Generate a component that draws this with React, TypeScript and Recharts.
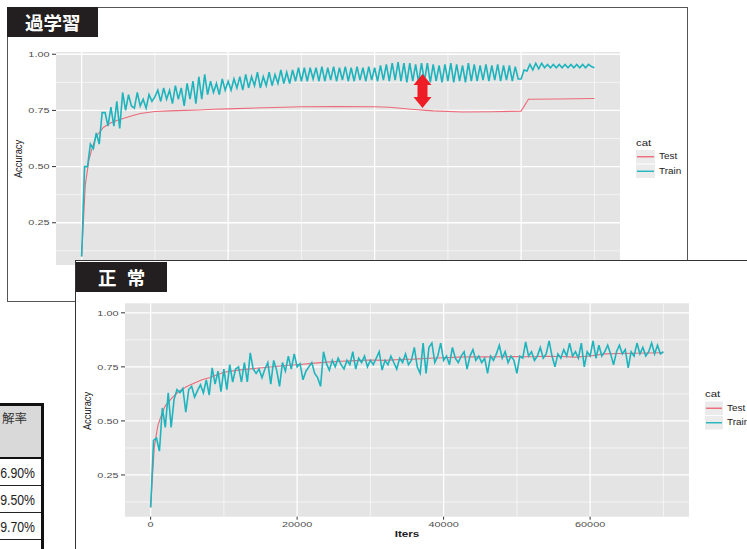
import { LineChart, Line, XAxis, YAxis, CartesianGrid } from "recharts"

const FONT = '"Liberation Sans", Arial, Helvetica, sans-serif'
const CJK = '"Noto Sans CJK JP", "Noto Sans CJK SC", sans-serif'

const TEST_COLOR = "#EC6A78"
const TRAIN_COLOR = "#1EB4BD"
const PANEL = "#E4E4E4"

// iterations between two logged training points
const ITER_STEP = 400

const yMajor = [0.25, 0.5, 0.75, 1.0]
const yMinor = [0.125, 0.375, 0.625, 0.875]
const xMajor = [0, 20000, 40000, 60000]
const xMinor = [10000, 30000, 50000, 70000]

const legendItems = [
  { label: "Test", color: TEST_COLOR },
  { label: "Train", color: TRAIN_COLOR },
]

// 過学習 (overfitting) - train accuracy, one value every ITER_STEP iterations
const overfitTrainAcc = [
  0.10, 0.50, 0.50, 0.60, 0.58, 0.65, 0.60, 0.74, 0.74, 0.68,
  0.765, 0.68, 0.79, 0.67, 0.83, 0.75, 0.82, 0.77, 0.76, 0.83,
  0.77, 0.80, 0.76, 0.82, 0.79, 0.81, 0.84, 0.79, 0.85, 0.80,
  0.84, 0.78, 0.86, 0.80, 0.85, 0.77, 0.87, 0.80, 0.88, 0.78,
  0.90, 0.80, 0.91, 0.82, 0.88, 0.83, 0.87, 0.82, 0.89, 0.84,
  0.88, 0.84, 0.89, 0.85, 0.90, 0.84, 0.91, 0.85, 0.90, 0.86,
  0.92, 0.85, 0.90, 0.86, 0.92, 0.86, 0.91, 0.87, 0.93, 0.87,
  0.92, 0.87, 0.93, 0.88, 0.94, 0.88, 0.94, 0.88, 0.94, 0.89,
  0.94, 0.88, 0.945, 0.88, 0.94, 0.885, 0.945, 0.88, 0.94, 0.885,
  0.945, 0.88, 0.94, 0.88, 0.945, 0.885, 0.94, 0.88, 0.945, 0.885,
  0.94, 0.88, 0.95, 0.885, 0.955, 0.88, 0.96, 0.885, 0.965, 0.88,
  0.96, 0.875, 0.96, 0.88, 0.955, 0.875, 0.96, 0.88, 0.96, 0.875,
  0.955, 0.88, 0.95, 0.875, 0.955, 0.88, 0.96, 0.875, 0.955, 0.88,
  0.95, 0.875, 0.96, 0.88, 0.955, 0.88, 0.95, 0.885, 0.955, 0.88,
  0.95, 0.885, 0.955, 0.88, 0.95, 0.885, 0.95, 0.88, 0.945, 0.89,
  0.89, 0.93, 0.925, 0.955, 0.93, 0.96, 0.935, 0.96, 0.94, 0.955,
  0.94, 0.955, 0.94, 0.955, 0.94, 0.955, 0.94, 0.955, 0.94, 0.955,
  0.94, 0.955, 0.94, 0.955, 0.945, 0.94,
]
const overfitTestIters = [
  0, 500, 1000, 1500, 2000, 3000, 4000, 5000, 6000, 7000, 8000, 9000, 10000,
  12000, 14000, 16000, 18000, 20000, 25000, 30000, 35000, 40000, 42000, 45000,
  48000, 52000, 56000, 60000, 61000, 65000, 70000,
]
const overfitTestAcc = [
  0.10, 0.42, 0.53, 0.59, 0.635, 0.675, 0.695, 0.707, 0.717, 0.727, 0.736, 0.741, 0.745,
  0.748, 0.75, 0.752, 0.755, 0.757, 0.762, 0.766, 0.767, 0.766, 0.764, 0.755,
  0.748, 0.743, 0.744, 0.747, 0.80, 0.801, 0.803,
]

// 正常 (normal)
const normalTrainAcc = [
  0.10, 0.41, 0.42, 0.36, 0.56, 0.47, 0.63, 0.47, 0.60, 0.645,
  0.63, 0.65, 0.54, 0.645, 0.66, 0.61, 0.64, 0.667, 0.63, 0.69,
  0.62, 0.745, 0.67, 0.73, 0.635, 0.74, 0.645, 0.76, 0.68, 0.74,
  0.75, 0.68, 0.77, 0.68, 0.815, 0.74, 0.72, 0.74, 0.70, 0.74,
  0.77, 0.67, 0.78, 0.735, 0.66, 0.77, 0.73, 0.80, 0.74, 0.81,
  0.75, 0.765, 0.69, 0.73, 0.75, 0.77, 0.72, 0.70, 0.66, 0.82,
  0.765, 0.735, 0.78, 0.75, 0.79, 0.76, 0.74, 0.78, 0.76, 0.82,
  0.74, 0.79, 0.77, 0.80, 0.75, 0.78, 0.76, 0.79, 0.82, 0.735,
  0.78, 0.76, 0.80, 0.77, 0.74, 0.79, 0.77, 0.81, 0.76, 0.78,
  0.84, 0.75, 0.72, 0.86, 0.72, 0.84, 0.86, 0.77, 0.80, 0.86,
  0.78, 0.80, 0.76, 0.84, 0.79, 0.77, 0.80, 0.82, 0.74, 0.80,
  0.83, 0.78, 0.80, 0.77, 0.79, 0.72, 0.80, 0.78, 0.81, 0.85,
  0.79, 0.82, 0.77, 0.80, 0.78, 0.72, 0.80, 0.79, 0.865, 0.80,
  0.82, 0.78, 0.80, 0.84, 0.79, 0.81, 0.87, 0.80, 0.75, 0.81,
  0.79, 0.83, 0.80, 0.86, 0.80, 0.82, 0.79, 0.86, 0.75, 0.82,
  0.80, 0.87, 0.79, 0.85, 0.80, 0.82, 0.85, 0.81, 0.76, 0.82,
  0.85, 0.81, 0.83, 0.745, 0.82, 0.80, 0.86, 0.81, 0.84, 0.80,
  0.82, 0.86, 0.81, 0.85, 0.81, 0.82,
]
const normalTestIters = [
  0, 500, 1000, 1500, 2000, 3000, 4000, 5000, 6000, 7000, 8000,
  10000, 12000, 14000, 16000, 18000, 20000, 22000, 24000, 26000, 28000, 30000,
  32000, 34000, 36000, 38000, 40000, 42000, 44000, 46000, 48000, 50000,
  52000, 54000, 56000, 58000, 60000, 62000, 64000, 66000, 68000, 70000,
]
const normalTestAcc = [
  0.10, 0.38, 0.48, 0.53, 0.57, 0.61, 0.64, 0.66, 0.675, 0.69, 0.70,
  0.725, 0.735, 0.742, 0.748, 0.755, 0.76, 0.766, 0.772, 0.776, 0.779, 0.782,
  0.78, 0.784, 0.786, 0.79, 0.792, 0.795, 0.797, 0.796, 0.797, 0.798,
  0.797, 0.799, 0.798, 0.795, 0.80, 0.81, 0.812, 0.813, 0.814, 0.815,
]

// left table fragment (partly cut off in the scan)
const tableHeader = "解率"
const tablePercents = ["6.90%", "9.50%", "9.70%", "9.00%"]

const overfitTrain = overfitTrainAcc.map((train, i) => ({ iter: i * ITER_STEP, train }))
const overfitTest = overfitTestIters.map((iter, i) => ({ iter, test: overfitTestAcc[i] }))
const normalTrain = normalTrainAcc.map((train, i) => ({ iter: i * ITER_STEP, train }))
const normalTest = normalTestIters.map((iter, i) => ({ iter, test: normalTestAcc[i] }))

function YTick(props: any) {
  const { x, y, payload } = props
  return (
    <g transform={`translate(${x},${y}) scale(1.45,1)`}>
      <text textAnchor="end" dy="0.36em" fontSize={7.5} fill="#4D4D4D" fontFamily={FONT}>
        {Number(payload.value).toFixed(2)}
      </text>
    </g>
  )
}

function XTick(props: any) {
  const { x, y, payload } = props
  return (
    <g transform={`translate(${x},${y}) scale(1.45,1)`}>
      <text textAnchor="middle" dy="0.71em" fontSize={7.5} fill="#4D4D4D" fontFamily={FONT}>
        {payload.value}
      </text>
    </g>
  )
}

function AccuracyChart({ width, height, margin, yDomain, train, test }: any) {
  return (
    <LineChart width={width} height={height} margin={margin}>
      <CartesianGrid fill={PANEL} stroke="#fff" strokeWidth={0.6} horizontalValues={yMinor} verticalValues={xMinor} />
      <CartesianGrid stroke="#fff" strokeWidth={1.3} horizontalValues={yMajor} verticalValues={xMajor} />
      <XAxis
        type="number"
        dataKey="iter"
        domain={[-3500, 73500]}
        allowDataOverflow
        ticks={xMajor}
        interval={0}
        tick={<XTick />}
        tickSize={3}
        tickMargin={2}
        axisLine={false}
        tickLine={{ stroke: "#333" }}
        height={20}
      />
      <YAxis
        type="number"
        domain={yDomain}
        allowDataOverflow
        ticks={yMajor}
        interval={0}
        tick={<YTick />}
        width={40}
        tickSize={4}
        tickMargin={2.5}
        axisLine={false}
        tickLine={{ stroke: "#333" }}
      />
      <Line data={test} dataKey="test" type="linear" stroke={TEST_COLOR} strokeWidth={1.1} dot={false} isAnimationActive={false} />
      <Line data={train} dataKey="train" type="linear" stroke={TRAIN_COLOR} strokeWidth={1.6} dot={false} isAnimationActive={false} />
    </LineChart>
  )
}

function LegendBlock({ x, titleY, boxTop, boxW }: any) {
  const boxH = 13.5
  return (
    <g fontFamily={FONT}>
      <text transform={`translate(${x},${titleY}) scale(1.3,1)`} fontSize={8.8} fill="#222">cat</text>
      {legendItems.map((item, i) => {
        const top = boxTop + i * (boxH + 1)
        return (
          <g key={item.label}>
            <rect x={x} y={top} width={boxW} height={boxH} fill="#EBEBEB" />
            <line x1={x + 1} x2={x + boxW - 1} y1={top + boxH / 2} y2={top + boxH / 2} stroke={item.color} strokeWidth={1.4} />
            <text transform={`translate(${x + boxW + 4},${top + 9.3}) scale(1.2,1)`} fontSize={8.3} fill="#222">
              {item.label}
            </text>
          </g>
        )
      })}
    </g>
  )
}

const titleBox = (left: number, top: number, text: string, spacing: number) => (
  <div
    style={{
      position: "absolute",
      left,
      top,
      width: 91,
      height: 30,
      background: "#231F20",
      color: "#fff",
      fontFamily: CJK,
      fontWeight: 700,
      fontSize: 18.5,
      lineHeight: "30px",
      paddingLeft: left === 7 ? 18 : 22,
      letterSpacing: spacing,
      boxSizing: "border-box",
      whiteSpace: "nowrap",
    }}
  >
    {text}
  </div>
)

export default function App() {
  return (
    <div style={{ position: "absolute", left: 0, top: 0, width: 747, height: 549, overflow: "hidden", background: "#fff" }}>
      {/* table fragment */}
      <div style={{ position: "absolute", left: -10, top: 403, width: 54, height: 160, borderTop: "3px solid #111", borderRight: "3px solid #111", boxSizing: "border-box" }} />
      <div style={{ position: "absolute", left: 0, top: 406, width: 41, height: 51, background: "#D9D9D9" }} />
      <div style={{ position: "absolute", left: 0, top: 457, width: 41, height: 2, background: "#111" }} />
      {[485, 512, 539].map((t) => (
        <div key={t} style={{ position: "absolute", left: 0, top: t, width: 41, height: 1, background: "#222" }} />
      ))}

      {/* 過学習 panel */}
      <div style={{ position: "absolute", left: 7, top: 7, width: 681, height: 295, border: "1.3px solid #555", boxSizing: "border-box", background: "#fff" }} />
      <div style={{ position: "absolute", left: 0, top: 0 }}>
        <AccuracyChart
          width={700}
          height={285}
          margin={{ top: 52, right: 80, bottom: 0, left: 16 }}
          yDomain={[0.062, 1.01]}
          train={overfitTrain}
          test={overfitTest}
        />
      </div>
      {titleBox(7, 7, "過学習", 0)}

      {/* 正常 panel */}
      <div style={{ position: "absolute", left: 75, top: 260, width: 700, height: 300, border: "1.5px solid #333", boxSizing: "border-box", background: "#fff" }} />
      <div style={{ position: "absolute", left: 76, top: 262 }}>
        <AccuracyChart
          width={671}
          height={287}
          margin={{ top: 41.3, right: 58, bottom: 12.3, left: 9 }}
          yDomain={[0.057, 1.044]}
          train={normalTrain}
          test={normalTest}
        />
      </div>
      {titleBox(76, 261.5, "正 常", 3)}

      <svg width={747} height={549} style={{ position: "absolute", left: 0, top: 0, pointerEvents: "none" }}>
        <g fontFamily={FONT} fill="#222">
          <text transform="translate(21.6,159) rotate(-90) scale(1,1.25)" textAnchor="middle" fontSize={9.3}>Accuracy</text>
          <text transform="translate(91.3,411) rotate(-90) scale(1,1.25)" textAnchor="middle" fontSize={9.3}>Accuracy</text>
          <text transform="translate(407,537.3) scale(1.3,1)" textAnchor="middle" fontSize={9} fontWeight="bold">Iters</text>
        </g>
        <LegendBlock x={636} titleY={145.5} boxTop={150} boxW={19} />
        <LegendBlock x={705} titleY={396.7} boxTop={401.5} boxW={18} />

        {/* red double arrow marking the gap */}
        <polygon
          points="422.5,74 431.5,85 427.5,85 427.5,97 431.5,97 422.5,108 413.5,97 417.5,97 417.5,85 413.5,85"
          fill="#EE1C25"
        />

        <text x={2} y={423} fontFamily={CJK} fontSize={12.5} fill="#333">{tableHeader}</text>
        {tablePercents.map((p, i) => (
          <text key={p} transform={`translate(35,${478 + i * 27}) scale(0.82,1)`} textAnchor="end" fontFamily={FONT} fontSize={15} fill="#222">
            {p}
          </text>
        ))}
      </svg>
    </div>
  )
}
